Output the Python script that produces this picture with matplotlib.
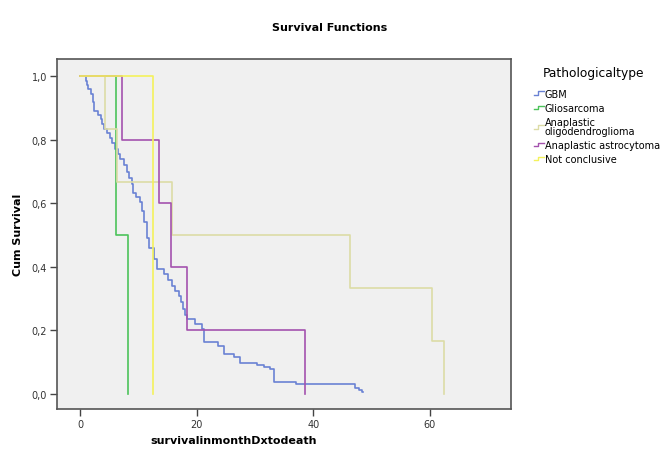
import matplotlib
matplotlib.use("Agg")
import matplotlib.pyplot as plt
from matplotlib.lines import Line2D
from matplotlib.legend_handler import HandlerBase
from matplotlib.ticker import FuncFormatter

# step points (time in months, cumulative survival after that time)
gbm_t = [0.0, 0.9, 1.2, 1.4, 1.8, 2.1, 2.4, 3.1, 3.5, 3.8, 4.0, 4.6, 5.1, 5.5,
         6.0, 6.5, 6.9, 7.5, 8.0, 8.4, 8.8, 9.1, 9.6, 10.3, 10.6, 11.0, 11.4,
         11.8, 12.6, 13.1, 14.3, 15.0, 15.7, 16.3, 16.9, 17.3, 17.7, 18.0, 18.3,
         19.7, 20.9, 21.2, 23.7, 24.6, 26.3, 27.4, 30.3, 31.5, 32.6, 33.2, 37.1,
         47.1, 47.8, 48.3]
gbm_s = [1.0, 0.986, 0.972, 0.959, 0.945, 0.918, 0.891, 0.878, 0.864, 0.850,
         0.833, 0.820, 0.807, 0.790, 0.770, 0.755, 0.739, 0.720, 0.700, 0.680,
         0.660, 0.634, 0.620, 0.603, 0.575, 0.540, 0.490, 0.460, 0.425, 0.393,
         0.377, 0.360, 0.340, 0.325, 0.309, 0.290, 0.267, 0.250, 0.236, 0.220,
         0.205, 0.163, 0.150, 0.126, 0.115, 0.099, 0.092, 0.085, 0.079, 0.039,
         0.031, 0.020, 0.013, 0.007]
gbm_end = 48.5

glio_t = [0.0, 6.2, 8.2]
glio_s = [1.0, 0.5, 0.0]

oligo_t = [0.0, 4.3, 6.3, 15.7, 46.3, 60.4, 62.4]
oligo_s = [1.0, 0.833, 0.667, 0.5, 0.333, 0.167, 0.0]

astro_t = [0.0, 7.2, 13.5, 15.5, 18.3, 38.5]
astro_s = [1.0, 0.8, 0.6, 0.4, 0.2, 0.0]

nc_t = [0.0, 12.4]
nc_s = [1.0, 0.0]

labels = ["GBM", "Gliosarcoma", "Anaplastic\noligodendroglioma",
          "Anaplastic astrocytoma", "Not conclusive"]
colors = ["#6a82d4", "#4cc35a", "#dcdca6", "#a452ae", "#f4f25c"]


class StepHandler(HandlerBase):
    # little step-shaped line like the SPSS legend keys
    def create_artists(self, legend, orig_handle, xdescent, ydescent,
                       width, height, fontsize, trans):
        x0 = -xdescent
        y0 = -ydescent
        xs = [x0, x0 + width * 0.45, x0 + width * 0.45, x0 + width]
        ys = [y0 + height * 0.2, y0 + height * 0.2, y0 + height * 0.75, y0 + height * 0.75]
        line = Line2D(xs, ys, color=orig_handle.get_color(), lw=1.0)
        line.set_transform(trans)
        return [line]


fig = plt.figure(figsize=(6.64, 4.56), dpi=100)
ax = fig.add_axes([0.0858, 0.1009, 0.6837, 0.7675])
ax.set_facecolor("#f0f0f0")

series = [(gbm_t, gbm_s, gbm_end), (glio_t, glio_s, None), (oligo_t, oligo_s, None),
          (astro_t, astro_s, None), (nc_t, nc_s, None)]
handles = []
for (t, s, end), lab, col in zip(series, labels, colors):
    tt = list(t)
    ss = list(s)
    if end is not None:
        tt.append(end)
        ss.append(ss[-1])
    ln, = ax.plot(tt, ss, drawstyle="steps-post", color=col, lw=1.2, label=lab)
    handles.append(ln)

ax.set_xlim(-4, 73.9)
ax.set_ylim(-0.047, 1.054)
ax.set_xticks([0, 20, 40, 60])
ax.set_yticks([0.0, 0.2, 0.4, 0.6, 0.8, 1.0])
ax.yaxis.set_major_formatter(FuncFormatter(lambda v, p: f"{v:.1f}".replace(".", ",")))
ax.tick_params(direction="out", length=5, width=1, colors="#444444", labelsize=7,
               labelcolor="#333333", pad=2)
for sp in ax.spines.values():
    sp.set_color("#555555")
    sp.set_linewidth(1.2)

ax.set_xlabel("survivalinmonthDxtodeath", fontsize=8, fontweight="bold")
ax.xaxis.set_label_coords((234 - 57) / 454, -0.075)
ax.set_ylabel("Cum Survival", fontsize=8, fontweight="bold", labelpad=6)
fig.text(0.497, 0.938, "Survival Functions", fontsize=8, fontweight="bold",
         ha="center", va="center")

leg = fig.legend(handles=handles, labels=labels, loc="upper left",
                 bbox_to_anchor=(0.797, 0.864), frameon=False, fontsize=7,
                 title="Pathologicaltype", title_fontsize=8.8, borderpad=0,
                 handlelength=1.0, handletextpad=0.1, labelspacing=0.42,
                 handler_map={Line2D: StepHandler()})
leg._legend_box.align = "left"
leg._legend_box.sep = 7
for txt in leg.get_texts():
    txt.set_linespacing(0.85)
leg.get_title().set_position((9, 0))

fig.savefig("out.png", dpi=100)
